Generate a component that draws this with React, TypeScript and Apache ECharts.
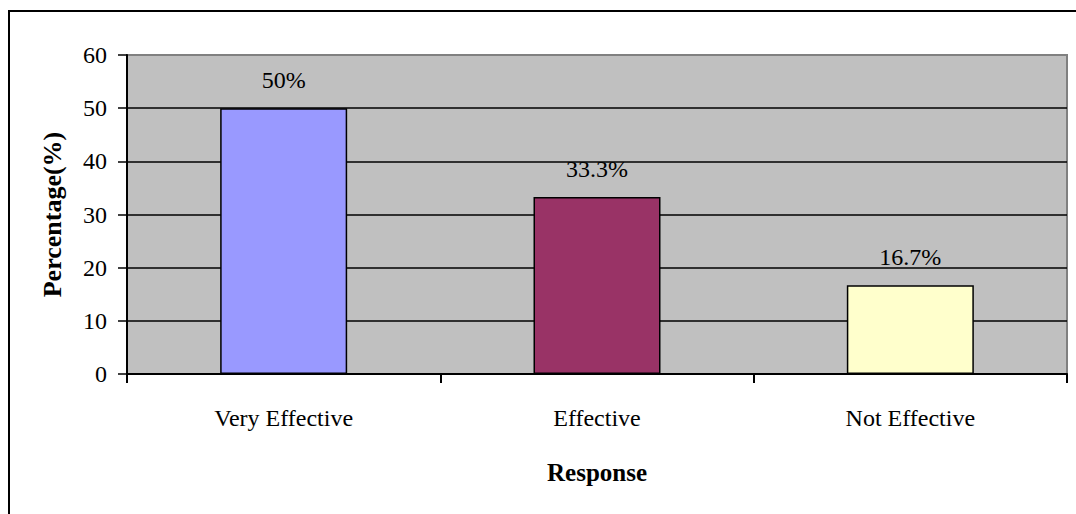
import React, { useEffect, useRef } from "react";
import * as echarts from "echarts";

const categories = ["Very Effective", "Effective", "Not Effective"];
const values = [50, 33.3, 16.7];
const valueLabels = ["50%", "33.3%", "16.7%"];
const barColors = ["#9999FF", "#993366", "#FFFFCC"];
const yTicks = [0, 10, 20, 30, 40, 50, 60];

const FONT = "'Liberation Serif', 'Times New Roman', serif";

export default function App() {
  const ref = useRef<HTMLDivElement>(null);
  useEffect(() => {
    if (!ref.current) return;
    const chart = echarts.init(ref.current, undefined, { renderer: "svg" });
    chart.setOption({
      animation: false,
      backgroundColor: "#ffffff",
      textStyle: { fontFamily: FONT },
      graphic: [
        {
          type: "rect",
          shape: { x: 9, y: 11, width: 1100, height: 600 },
          style: { fill: "none", stroke: "#000", lineWidth: 2 },
          silent: true,
          z: 100,
        },
      ],
      grid: {
        left: 127,
        top: 55,
        right: 9,
        bottom: 140,
        show: true,
        backgroundColor: "#C0C0C0",
        borderColor: "#808080",
        borderWidth: 2,
      },
      xAxis: {
        type: "category",
        data: categories,
        name: "Response",
        nameLocation: "middle",
        nameGap: 86,
        nameTextStyle: { fontFamily: FONT, fontSize: 25, fontWeight: "bold", color: "#000" },
        axisLine: { lineStyle: { color: "#000", width: 2 } },
        axisTick: { show: true, length: 9, lineStyle: { color: "#000", width: 2 } },
        axisLabel: { fontFamily: FONT, fontSize: 24, color: "#000", margin: 32 },
        splitLine: { show: false },
      },
      yAxis: {
        type: "value",
        min: yTicks[0],
        max: yTicks[yTicks.length - 1],
        interval: 10,
        name: "Percentage(%)",
        nameLocation: "middle",
        nameGap: 62,
        nameTextStyle: { fontFamily: FONT, fontSize: 26, fontWeight: "bold", color: "#000" },
        axisLine: { show: true, lineStyle: { color: "#000", width: 2 } },
        axisTick: { show: true, length: 9, lineStyle: { color: "#000", width: 1.5 } },
        axisLabel: { fontFamily: FONT, fontSize: 24, color: "#000", margin: 20 },
        splitLine: {
          show: true,
          lineStyle: {
            color: ["#000", "#000", "#000", "#000", "#000", "#000", "#808080"],
            width: 1.5,
          },
        },
      },
      series: [
        {
          type: "bar",
          barWidth: 127,
          data: values.map((v, i) => ({
            value: v,
            itemStyle: { color: barColors[i], borderColor: "#000", borderWidth: 1.5 },
          })),
          label: {
            show: true,
            position: "top",
            distance: 16,
            fontFamily: FONT,
            fontSize: 24,
            color: "#000",
            formatter: (p: any) => valueLabels[p.dataIndex],
          },
        },
      ],
    });
    return () => chart.dispose();
  }, []);
  return (
    <div
      ref={ref}
      style={{ position: "absolute", left: 0, top: 0, width: 1076, height: 514 }}
    />
  );
}
